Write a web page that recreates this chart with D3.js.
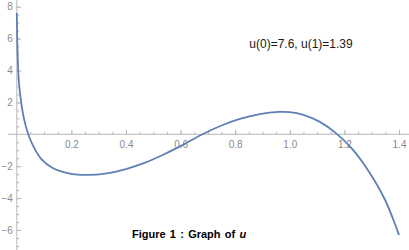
<!DOCTYPE html>
<head>
    <meta charset="utf-8">
    <script src="https://d3js.org/d3.v7.min.js"></script>
    <style type="text/css">
        body {
            margin: 0;
            background: #fff;
        }
        #chart svg {
            display: block;
        }
        .tick text {
            font: 10px "Liberation Sans", Arial, sans-serif;
            fill: #8a8a8a;
        }
        .tick line {
            stroke: #b8b8b8;
        }
    </style>
</head>
<body>
    <div id="chart"></div>
</body>
</html>

<script type="text/javascript">
	var width = 409, height = 250;

	// values
	var xs = [0, 0.003, 0.008, 0.016, 0.026, 0.042, 0.065, 0.09, 0.13, 0.19, 0.26, 0.33, 0.40, 0.47,
		0.54, 0.61, 0.68, 0.75, 0.82, 0.89, 0.96, 1.0, 1.05, 1.11, 1.17, 1.23, 1.29, 1.35, 1.4];
	var us = [7.6, 5.0, 3.2, 2.0, 1.0, 0, -0.9, -1.55, -2.1, -2.45, -2.55, -2.45, -2.18, -1.78,
		-1.25, -0.65, 0, 0.55, 0.98, 1.27, 1.40, 1.39, 1.22, 0.78, 0.06, -0.95, -2.35, -4.15, -6.31];

	var xMajor = [0.2, 0.4, 0.6, 0.8, 1.0, 1.2, 1.4];
	var yMajor = [-6, -4, -2, 2, 4, 6, 8];
	var xMinor = d3.range(1, 29).map(function(i) { return i * 0.05; });
	var yMinor = d3.range(-14, 17).map(function(i) { return i * 0.5; });

	var note = "u(0)=7.6, u(1)=1.39";
	var caption = "Figure 1 : Graph of ";

	var x = d3.scaleLinear().domain([0, 1.4]).range([16.8, 399]);
	var y = d3.scaleLinear().domain([0, 8]).range([134.3, 6.7]);

	var svg = d3.select("#chart").append("svg")
		.attr("width", width)
		.attr("height", height);

	// axis lines
	svg.append("line")
		.attr("x1", 8).attr("x2", width)
		.attr("y1", y(0)).attr("y2", y(0))
		.attr("stroke", "#b8b8b8");
	svg.append("line")
		.attr("x1", x(0)).attr("x2", x(0))
		.attr("y1", 0).attr("y2", height)
		.attr("stroke", "#b8b8b8");

	// minor ticks
	svg.append("g")
		.attr("transform", "translate(0," + y(0) + ")")
		.call(d3.axisBottom(x).tickValues(xMinor).tickSize(-2.5).tickSizeOuter(0).tickFormat(""))
		.call(function(g) { g.select(".domain").remove(); });
	svg.append("g")
		.attr("transform", "translate(" + x(0) + ",0)")
		.call(d3.axisLeft(y).tickValues(yMinor.filter(function(v) { return v !== 0; }))
			.tickSize(-2.5).tickSizeOuter(0).tickFormat(""))
		.call(function(g) { g.select(".domain").remove(); });

	// major ticks + labels
	svg.append("g")
		.attr("transform", "translate(0," + y(0) + ")")
		.call(d3.axisBottom(x).tickValues(xMajor).tickSize(-4.5).tickSizeOuter(0)
			.tickPadding(7).tickFormat(d3.format(".1f")))
		.call(function(g) { g.select(".domain").remove(); });
	svg.append("g")
		.attr("transform", "translate(" + x(0) + ",0)")
		.call(d3.axisLeft(y).tickValues(yMajor).tickSize(-4.5).tickSizeOuter(0)
			.tickPadding(4).tickFormat(d3.format("d")))
		.call(function(g) { g.select(".domain").remove(); });

	// the curve
	var line = d3.line()
		.x(function(d, i) { return x(xs[i]); })
		.y(function(d, i) { return y(us[i]); })
		.curve(d3.curveCatmullRom.alpha(0.5));

	svg.append("path")
		.datum(xs)
		.attr("d", line)
		.attr("fill", "none")
		.attr("stroke", "#5E81B5")
		.attr("stroke-width", 1.8);

	svg.append("text")
		.attr("x", 249.3)
		.attr("y", 47.5)
		.style("font", "12px 'Liberation Sans', Arial, sans-serif")
		.attr("fill", "#1a1a1a")
		.text(note);

	var cap = svg.append("text")
		.attr("x", 132)
		.attr("y", 238)
		.style("font", "bold 11px 'Liberation Sans', Arial, sans-serif")
		.style("word-spacing", "1.2px")
		.attr("fill", "#000");
	cap.append("tspan").text(caption);
	cap.append("tspan").style("font-style", "italic").text("u");
</script>
